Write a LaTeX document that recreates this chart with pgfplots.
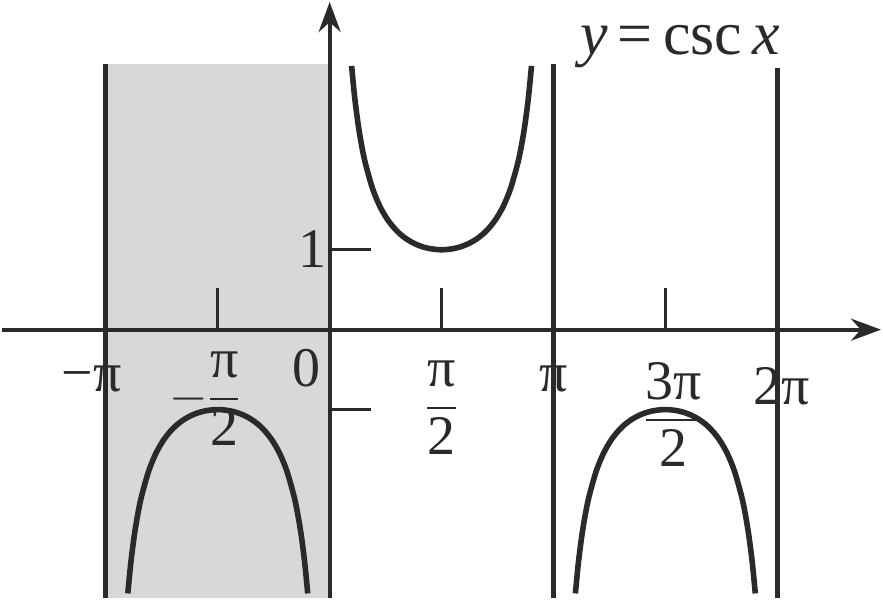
\documentclass[border=0pt]{standalone}
\usepackage{amsmath}
\usepackage{fontspec}
\setmainfont{Liberation Serif}
\usepackage{pgfplots}
\pgfplotsset{compat=1.18}
\usetikzlibrary{arrows.meta}
\definecolor{ink}{HTML}{2A2A2A}
\definecolor{shade}{HTML}{D8D8D8}
\tikzset{lab/.style={font=\fontsize{28}{32}\selectfont, inner sep=0pt, text=ink}}
\begin{document}
\begin{tikzpicture}
\begin{axis}[
  x=35.65pt, y=40pt,
  xmin=-4.60, xmax=7.74, ymin=-3.40, ymax=4.10,
  hide axis, clip=false,
]
% bounding area
\addplot[draw=none] coordinates {(-4.60,-3.40) (7.74,4.10)};
% shaded region
\addplot[fill=shade, draw=none] coordinates {(-3.1416,-3.36) (0,-3.36) (0,3.33) (-3.1416,3.33)} -- cycle;
% axes
\addplot[ink, line width=2pt, -{Stealth[length=15pt,width=11pt]}] coordinates {(-4.60,0) (7.74,0)};
\addplot[ink, line width=2pt, -{Stealth[length=15pt,width=11pt]}] coordinates {(0,-3.36) (0,4.10)};
% asymptotes
\addplot[ink, line width=2.4pt] coordinates {(-3.1416,-3.36) (-3.1416,3.33)};
\addplot[ink, line width=2.4pt] coordinates {(3.1416,-3.36) (3.1416,3.33)};
\addplot[ink, line width=2.4pt] coordinates {(6.2832,-3.36) (6.2832,3.28)};
% ticks
\addplot[ink, line width=1.5pt] coordinates {(-1.5708,0) (-1.5708,0.52)};
\addplot[ink, line width=1.5pt] coordinates {(1.5708,0) (1.5708,0.52)};
\addplot[ink, line width=1.5pt] coordinates {(4.7124,0) (4.7124,0.52)};
\addplot[ink, line width=1.5pt] coordinates {(0,1) (0.58,1)};
\addplot[ink, line width=1.5pt] coordinates {(0,-1) (0.58,-1)};
% csc branches
\addplot[ink, line width=2.8pt, smooth] coordinates {
(0.308,3.300) (0.35,2.916) (0.40,2.568) (0.45,2.299) (0.50,2.086) (0.60,1.771) (0.70,1.552) (0.80,1.394) (0.90,1.277) (1.00,1.188) (1.10,1.122) (1.20,1.073) (1.30,1.038) (1.40,1.015) (1.50,1.003) (1.5708,1) (1.6416,1.003) (1.7416,1.015) (1.8416,1.038) (1.9416,1.073) (2.0416,1.122) (2.1416,1.188) (2.2416,1.277) (2.3416,1.394) (2.4416,1.552) (2.5416,1.771) (2.6416,2.086) (2.6916,2.299) (2.7416,2.568) (2.7916,2.916) (2.8336,3.300)};
\addplot[ink, line width=2.8pt, smooth] coordinates {
(-2.8336,-3.300) (-2.7916,-2.916) (-2.7416,-2.568) (-2.6916,-2.299) (-2.6416,-2.086) (-2.5416,-1.771) (-2.4416,-1.552) (-2.3416,-1.394) (-2.2416,-1.277) (-2.1416,-1.188) (-2.0416,-1.122) (-1.9416,-1.073) (-1.8416,-1.038) (-1.7416,-1.015) (-1.6416,-1.003) (-1.5708,-1) (-1.50,-1.003) (-1.40,-1.015) (-1.30,-1.038) (-1.20,-1.073) (-1.10,-1.122) (-1.00,-1.188) (-0.90,-1.277) (-0.80,-1.394) (-0.70,-1.552) (-0.60,-1.771) (-0.50,-2.086) (-0.45,-2.299) (-0.40,-2.568) (-0.35,-2.916) (-0.308,-3.300)};
\addplot[ink, line width=2.8pt, smooth] coordinates {
(3.4496,-3.300) (3.4916,-2.916) (3.5416,-2.568) (3.5916,-2.299) (3.6416,-2.086) (3.7416,-1.771) (3.8416,-1.552) (3.9416,-1.394) (4.0416,-1.277) (4.1416,-1.188) (4.2416,-1.122) (4.3416,-1.073) (4.4416,-1.038) (4.5416,-1.015) (4.6416,-1.003) (4.7124,-1) (4.7832,-1.003) (4.8832,-1.015) (4.9832,-1.038) (5.0832,-1.073) (5.1832,-1.122) (5.2832,-1.188) (5.3832,-1.277) (5.4832,-1.394) (5.5832,-1.552) (5.6832,-1.771) (5.7832,-2.086) (5.8332,-2.299) (5.8832,-2.568) (5.9332,-2.916) (5.9752,-3.300)};
% labels
\node[lab] at (axis cs:-3.34,-0.62) {−π};
\node[lab] at (axis cs:-1.75,-0.86) {$-\dfrac{\text{π}}{\text{2}}$};
\node[lab] at (axis cs:-0.32,-0.48) {0};
\node[lab] at (axis cs:1.57,-0.98) {$\dfrac{\text{π}}{\text{2}}$};
\node[lab] at (axis cs:3.14,-0.62) {π};
\node[lab] at (axis cs:4.83,-1.06) {$\dfrac{\text{3π}}{\text{2}}$};
\node[lab] at (axis cs:6.35,-0.71) {2π};
\node[lab] at (axis cs:-0.24,1.01) {1};
\node[lab, font=\fontsize{31}{34}\selectfont, anchor=base] at (axis cs:4.92,3.44) {\textit{y}\,=\,csc\,\textit{x}};
\end{axis}
\end{tikzpicture}
\end{document}
